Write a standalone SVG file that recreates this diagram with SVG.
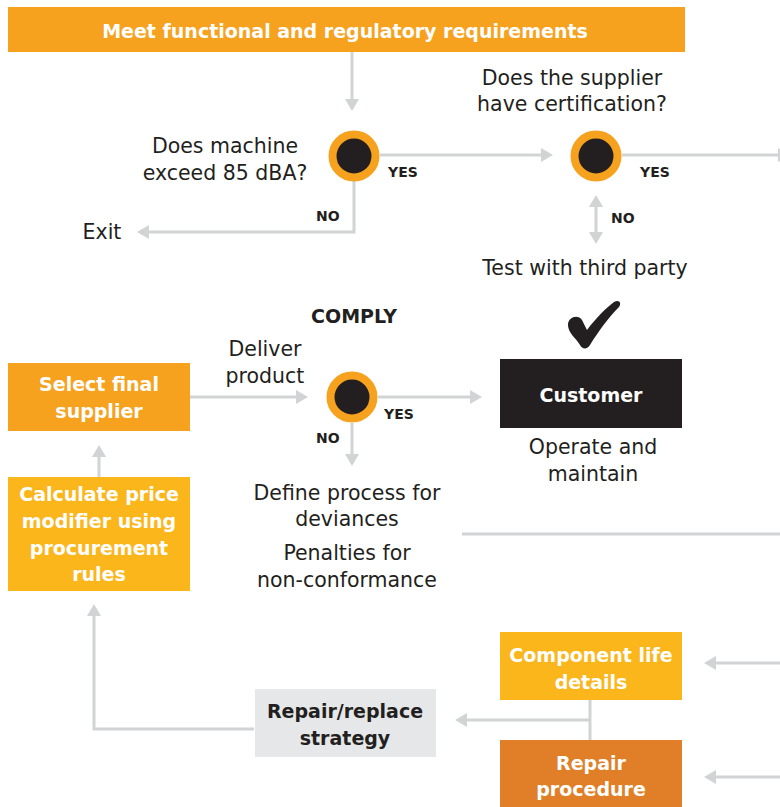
<svg xmlns="http://www.w3.org/2000/svg" width="780" height="807" viewBox="0 0 780 807">
<defs>
<style>
.reg{font-family:"DejaVu Sans",sans-serif;font-size:20.5px;fill:#231F20;text-anchor:middle}
.bw{font-family:"DejaVu Sans",sans-serif;font-weight:bold;font-size:19px;fill:#FFFFFF;text-anchor:middle}
.bd{font-family:"DejaVu Sans",sans-serif;font-weight:bold;font-size:19px;fill:#231F20;text-anchor:middle}
.lbl{font-family:"DejaVu Sans",sans-serif;font-weight:bold;font-size:14px;fill:#231F20}
.con{fill:none;stroke:#D1D3D4;stroke-width:3}
.dec{fill:#231F20;stroke:#F7A21E;stroke-width:8}
</style>
<marker id="ah" viewBox="0 0 12 14" refX="4" refY="7" markerWidth="12" markerHeight="14" markerUnits="userSpaceOnUse" orient="auto-start-reverse">
<path d="M0,0 L12,7 L0,14 Z" fill="#D1D3D4"/>
</marker>
</defs>
<rect width="780" height="807" fill="#FFFFFF"/>

<g id="connectors">
<path class="con" d="M352,52 V103" marker-end="url(#ah)"/>
<path class="con" d="M380,155 H545" marker-end="url(#ah)"/>
<path class="con" d="M622,155 H782" marker-end="url(#ah)"/>
<path class="con" d="M354,181 V232 H145" marker-end="url(#ah)"/>
<path class="con" d="M596,203 V236" marker-start="url(#ah)" marker-end="url(#ah)"/>
<path class="con" d="M190,397 H300" marker-end="url(#ah)"/>
<path class="con" d="M378,397 H474" marker-end="url(#ah)"/>
<path class="con" d="M352,423 V458" marker-end="url(#ah)"/>
<path class="con" d="M462,534 H780"/>
<path class="con" d="M99,477 V453" marker-end="url(#ah)"/>
<path class="con" d="M254,729 H94 V612" marker-end="url(#ah)"/>
<path class="con" d="M590,700 V740"/>
<path class="con" d="M590,720 H463" marker-end="url(#ah)"/>
<path class="con" d="M780,663 H712" marker-end="url(#ah)"/>
<path class="con" d="M780,777 H712" marker-end="url(#ah)"/>
</g>

<g id="n-top">
<rect x="8" y="7" width="677" height="45" fill="#F7A21E"/>
<text class="bw" x="345" y="38">Meet functional and regulatory requirements</text>
</g>

<g id="n-dec1">
<circle class="dec" cx="354" cy="156" r="21.5"/>
<text class="reg" x="225" y="153">Does machine</text>
<text class="reg" x="225" y="180">exceed 85 dBA?</text>
<text class="lbl" x="388" y="177">YES</text>
<text class="lbl" x="316" y="221">NO</text>
</g>

<g id="n-exit">
<text class="reg" x="102" y="239">Exit</text>
</g>

<g id="n-dec2">
<circle class="dec" cx="596" cy="156" r="21.5"/>
<text class="reg" x="572" y="85">Does the supplier</text>
<text class="reg" x="572" y="111">have certification?</text>
<text class="lbl" x="640" y="177">YES</text>
<text class="lbl" x="611" y="223">NO</text>
</g>

<g id="n-test">
<text class="reg" x="585" y="275">Test with third party</text>
</g>

<g id="n-comply">
<text class="bd" x="354" y="323">COMPLY</text>
<path d="M568,325 C568,317 578,314 582,320 L587,330 C596,318 606,308 614,302 C619,299 622,303 619,307 C608,318 598,332 590,345 C587,350 582,349 580,345 C576,338 568,333 568,325 Z" fill="#231F20"/>
</g>

<g id="n-select">
<rect x="8" y="363" width="182" height="68" fill="#F7A21E"/>
<text class="bw" x="99" y="391">Select final</text>
<text class="bw" x="99" y="418">supplier</text>
</g>

<g id="n-deliver">
<text class="reg" x="265" y="356">Deliver</text>
<text class="reg" x="265" y="383">product</text>
</g>

<g id="n-dec3">
<circle class="dec" cx="352" cy="397" r="21.5"/>
<text class="lbl" x="384" y="419">YES</text>
<text class="lbl" x="316" y="443">NO</text>
</g>

<g id="n-customer">
<rect x="500" y="359" width="182" height="69" fill="#231F20"/>
<text class="bw" x="591" y="402">Customer</text>
<text class="reg" x="593" y="454">Operate and</text>
<text class="reg" x="593" y="481">maintain</text>
</g>

<g id="n-define">
<text class="reg" x="347" y="500">Define process for</text>
<text class="reg" x="347" y="526">deviances</text>
<text class="reg" x="347" y="560">Penalties for</text>
<text class="reg" x="347" y="587">non-conformance</text>
</g>

<g id="n-calc">
<rect x="8" y="477" width="182" height="114" fill="#FBB61C"/>
<text class="bw" x="99" y="501">Calculate price</text>
<text class="bw" x="99" y="528">modifier using</text>
<text class="bw" x="99" y="555">procurement</text>
<text class="bw" x="99" y="581">rules</text>
</g>

<g id="n-strategy">
<rect x="255" y="689" width="181" height="68" fill="#E6E7E8"/>
<text class="bd" x="345" y="718">Repair/replace</text>
<text class="bd" x="345" y="745">strategy</text>
</g>

<g id="n-component">
<rect x="500" y="632" width="182" height="68" fill="#FBB61C"/>
<text class="bw" x="591" y="662">Component life</text>
<text class="bw" x="591" y="689">details</text>
</g>

<g id="n-repair">
<rect x="500" y="740" width="182" height="67" fill="#E07F27"/>
<text class="bw" x="591" y="770">Repair</text>
<text class="bw" x="591" y="796">procedure</text>
</g>
</svg>
